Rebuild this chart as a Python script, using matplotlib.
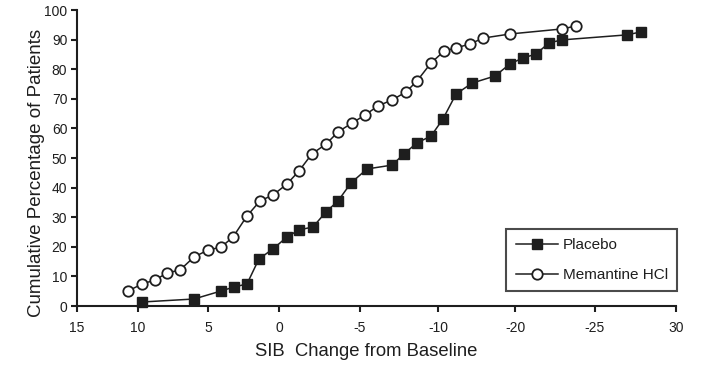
import matplotlib
matplotlib.use("Agg")
import matplotlib.pyplot as plt

plt.rcParams['font.family'] = ['Liberation Sans', 'DejaVu Sans']

# x positions are read along the printed axis (15 at the left end, the
# "30" tick at the right end); tick spacing in the source is uneven
tick_pos = [15, 10.93, 6.25, 1.51, -3.9, -9.11, -14.25, -19.59, -25]
tick_lab = ['15', '10', '5', '0', '-5', '-10', '-20', '-25', '30']

placebo_x = [10.66, 7.19, 5.38, 4.52, 3.65, 2.85, 1.91, 0.98, 0.18, -0.76,
             -1.63, -2.43, -3.30, -4.37, -6.04, -6.84, -7.70, -8.64, -9.44,
             -10.31, -11.38, -12.91, -13.92, -14.78, -15.65, -16.52, -17.39,
             -21.73, -22.66]
placebo_y = [1.35, 2.36, 5.07, 6.42, 7.43, 15.9, 19.3, 23.3, 25.7, 26.7,
             31.8, 35.5, 41.6, 46.3, 47.6, 51.4, 55.1, 57.4, 63.2,
             71.6, 75.3, 77.7, 81.8, 83.8, 85.1, 88.9, 89.9,
             91.6, 92.6]

mem_x = [11.59, 10.66, 9.79, 8.99, 8.12, 7.19, 6.25, 5.38, 4.58, 3.65,
         2.78, 1.91, 0.98, 0.18, -0.69, -1.63, -2.43, -3.36, -4.23, -5.10,
         -6.04, -6.97, -7.70, -8.64, -9.51, -10.31, -11.24, -12.11, -13.92,
         -17.39, -18.32]
mem_y = [5.07, 7.43, 8.78, 11.15, 12.16, 16.55, 18.9, 19.9, 23.3, 30.4,
         35.5, 37.5, 41.2, 45.6, 51.4, 54.7, 58.8, 61.8, 64.5, 67.6,
         69.6, 72.3, 76.0, 82.1, 86.1, 87.2, 88.5, 90.5, 91.9,
         93.6, 94.6]

ink = '#1e1e1e'

fig = plt.figure(figsize=(7.01, 3.71), dpi=100)
ax = fig.add_axes([77 / 701, 65 / 371, 599 / 701, 296 / 371])

ax.plot(placebo_x, placebo_y, color=ink, lw=1.1, marker='s', ms=7,
        mfc=ink, mec=ink, label='Placebo', clip_on=False)
ax.plot(mem_x, mem_y, color=ink, lw=1.1, marker='o', ms=7.5,
        mfc='white', mec=ink, mew=1.3, label='Memantine HCl', clip_on=False)

ax.set_xlim(15, -25)
ax.set_ylim(0, 100)
ax.set_xticks(tick_pos)
ax.set_xticklabels(tick_lab)
ax.set_yticks(range(0, 101, 10))

for s in ['top', 'right']:
    ax.spines[s].set_visible(False)
for s in ['left', 'bottom']:
    ax.spines[s].set_linewidth(1.5)
    ax.spines[s].set_color(ink)

ax.tick_params(axis='both', colors=ink, width=1.5, length=4, labelsize=10)
ax.tick_params(axis='x', pad=7)
ax.tick_params(axis='y', pad=3)

ax.set_xlabel('SIB  Change from Baseline', fontsize=13.3, color=ink)
ax.xaxis.set_label_coords(0.4825, -0.125)
ax.set_ylabel('Cumulative Percentage of Patients', fontsize=13.5, color=ink)
ax.yaxis.set_label_coords(-0.053, 0.45)

leg = ax.legend(loc='lower right', bbox_to_anchor=(1.002, 0.05), fontsize=11,
                frameon=True, fancybox=False, handlelength=2.8,
                handletextpad=0.3, borderpad=0.6, labelspacing=1.05,
                borderaxespad=0)
leg.get_frame().set_edgecolor(ink)
leg.get_frame().set_linewidth(1.5)
for t in leg.get_texts():
    t.set_color(ink)

fig.savefig('out.png', dpi=100)
